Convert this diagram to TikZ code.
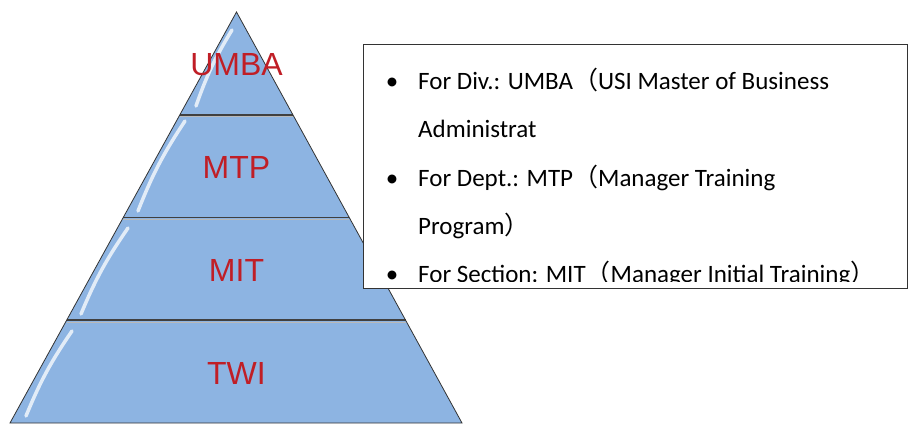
\documentclass[tikz,border=0pt]{standalone}
\usepackage{fontspec}
\setmainfont{Carlito}
\newfontfamily\cjk{Noto Sans CJK SC}
\newfontfamily\lblfont{Liberation Sans}
\usetikzlibrary{calc,positioning}
\definecolor{pyrblue}{RGB}{141,180,226}
\definecolor{lblred}{RGB}{192,30,38}

\begin{document}
\begin{tikzpicture}[x=1pt,y=-1pt]
  \tikzstyle{lvl} = [text=lblred, font=\lblfont\fontsize{32}{32}\selectfont, inner sep=0pt]
  \tikzstyle{item} = [anchor=base west, font=\fontsize{25}{25}\selectfont, inner sep=0pt]
  \tikzstyle{dot} = [anchor=base, font=\fontsize{25}{25}\selectfont, inner sep=0pt]
  \tikzstyle{shine} = [white, line width=3.5pt, line cap=round, opacity=0.75]
  \tikzstyle{divider} = [black!75, line width=1.6pt]

  \useasboundingbox (0,0) rectangle (908,425);

  % pyramid
  \coordinate (apex) at (236.5,12);
  \coordinate (baseleft) at (10,423);
  \coordinate (baseright) at (462,423);
  \fill[pyrblue] (apex) -- (baseleft) -- (baseright) -- cycle;

  \foreach \f/\n in {0.25/one, 0.5/two, 0.75/three} {
    \coordinate (\n-west) at ($(apex)!\f!(baseleft)$);
    \coordinate (\n-east) at ($(apex)!\f!(baseright)$);
  }
  \begin{scope}
    \clip (apex) -- (baseleft) -- (baseright) -- cycle;
    \foreach \n in {one,two,three}
      \draw[gray!55, line width=1pt] ($(\n-west)+(0,2.2)$) -- ($(\n-east)+(0,2.2)$);
  \end{scope}
  \foreach \n in {one,two,three}
    \draw[divider] (\n-west) -- (\n-east);

  % glossy streaks
  \draw[shine] (232,30) to[bend right=6] (196,106);
  \draw[shine] (185,121) to[bend right=6] (138,211);
  \draw[shine] (128,228) to[bend right=6] (81,314);
  \draw[shine] (72,331) to[bend right=6] (26,416);

  \draw[black!80, line width=0.8pt] (apex) -- (baseleft) -- (baseright) -- cycle;

  \node[lvl] (umba) at (236.5,65) {UMBA};
  \node[lvl] (mtp) at (236.5,167) {MTP};
  \node[lvl] (mit) at (236.5,270) {MIT};
  \node[lvl] (twi) at (236.5,373) {TWI};

  % text frame
  \draw[fill=white, draw=black!80, line width=0.8pt] (363,44) rectangle (907,288);
  \begin{scope}
    \clip (364,45) rectangle (906,281);
    \node[dot] (bul1) at (392,90) {•};
    \node[item] (div) at (418,90) {For Div.: UMBA{\cjk （}USI Master of Business};
    \node[item] (div2) at (418,138) {Administrat};
    \node[dot] (bul2) at (392,186) {•};
    \node[item] (dept) at (418,186) {For Dept.: MTP{\cjk （}Manager Training};
    \node[item] (dept2) at (418,234) {Program{\cjk ）}};
    \node[dot] (bul3) at (392,282) {•};
    \node[item] (sect) at (418,282) {For Section: MIT{\cjk （}Manager Initial Training{\cjk ）}};
  \end{scope}
\end{tikzpicture}
\end{document}
